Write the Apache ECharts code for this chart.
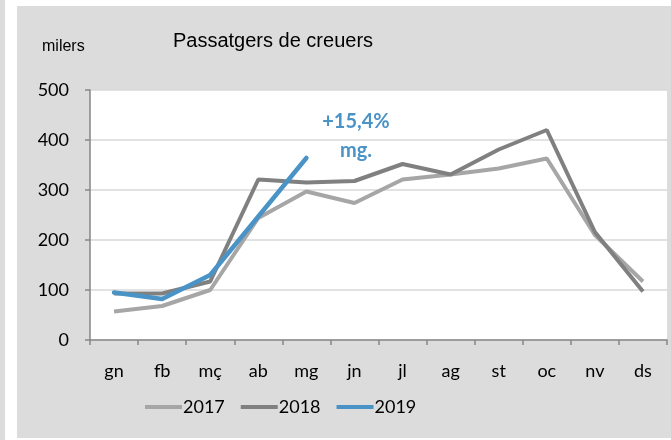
<!DOCTYPE html>
<html>
<head>
<meta charset="utf-8">
<script src="https://cdn.jsdelivr.net/npm/echarts@6/dist/echarts.min.js"></script>
<style>
  html, body { margin: 0; padding: 0; background: #fff; }
  #chart { width: 671px; height: 440px; }
</style>
</head>
<body>
<div id="chart"></div>
<script>
// mesos (categories)
const mesos = ['gn', 'fb', 'mç', 'ab', 'mg', 'jn', 'jl', 'ag', 'st', 'oc', 'nv', 'ds']
// passatgers en milers, llegits del gràfic
const v2017 = [57, 68, 100, 244, 297, 274, 321, 331, 343, 363, 210, 117]
const v2018 = [93, 93, 117, 321, 315, 318, 352, 331, 381, 420, 216, 97]
const v2019 = [95, 82, 130, 247, 364]
const anys = ['2017', '2018', '2019']
const colors = ['#a6a6a6', '#808080', '#4a93c6']

const gray = '#dcdcdc'
const labelFont = 'Lato, "Noto Sans", sans-serif'

const chart = echarts.init(document.getElementById('chart'))

const option = {
    backgroundColor: '#fff',
    animation: false,
    title: {
        text: 'Passatgers de creuers',
        left: 268,
        top: 26,
        textAlign: 'center',
        textStyle: {
            fontFamily: '"Liberation Sans", Arial, sans-serif',
            fontSize: 20,
            fontWeight: 'normal',
            color: '#000'
        }
    },
    graphic: [
        { type: 'rect', z: -10, shape: { x: 0, y: 0, width: 5, height: 440 }, style: { fill: gray } },
        { type: 'rect', z: -10, shape: { x: 17, y: 6, width: 654, height: 432 }, style: { fill: gray } },
        {
            type: 'text', left: 42, top: 39,
            style: { text: 'milers', font: '16px "Liberation Sans", Arial, sans-serif', fill: '#000' }
        },
        {
            type: 'text', x: 356, y: 122,
            style: {
                text: '+15,4%', align: 'center', verticalAlign: 'middle',
                font: 'bold 20px ' + labelFont, fill: '#4a93c6'
            }
        },
        {
            type: 'text', x: 356, y: 151,
            style: {
                text: 'mg.', align: 'center', verticalAlign: 'middle',
                font: 'bold 20px ' + labelFont, fill: '#4a93c6'
            }
        }
    ],
    legend: {
        left: 140,
        top: 393,
        itemWidth: 37,
        itemHeight: 4,
        itemGap: 16,
        icon: 'rect',
        data: anys,
        textStyle: { fontFamily: labelFont, fontSize: 18, color: '#000', padding: [0, 0, 0, -4] }
    },
    grid: {
        left: 90,
        top: 90,
        right: 4,
        bottom: 100,
        show: true,
        backgroundColor: '#fff',
        borderWidth: 0
    },
    xAxis: {
        type: 'category',
        data: mesos,
        boundaryGap: true,
        axisLine: { lineStyle: { color: '#868686', width: 1.5 } },
        axisTick: { show: true, length: 5, lineStyle: { color: '#868686', width: 1.5 } },
        axisLabel: { margin: 22, fontFamily: labelFont, fontSize: 18, color: '#000' }
    },
    yAxis: {
        type: 'value',
        min: 0,
        max: 500,
        interval: 100,
        axisLine: { show: true, lineStyle: { color: '#868686', width: 1.5 } },
        axisTick: { show: true, length: 5, lineStyle: { color: '#868686', width: 1.5 } },
        axisLabel: { margin: 21, fontFamily: labelFont, fontSize: 18, color: '#000' },
        splitLine: { lineStyle: { color: '#d9d9d9', width: 1.5 } }
    },
    series: [
        { name: anys[0], type: 'line', data: v2017, symbol: 'none', lineStyle: { width: 4, color: colors[0] }, itemStyle: { color: colors[0] } },
        { name: anys[1], type: 'line', data: v2018, symbol: 'none', lineStyle: { width: 4, color: colors[1] }, itemStyle: { color: colors[1] } },
        { name: anys[2], type: 'line', data: v2019, symbol: 'none', lineStyle: { width: 4.5, color: colors[2], cap: 'round' }, itemStyle: { color: colors[2] } }
    ]
}

chart.setOption(option)
</script>
</body>
</html>
